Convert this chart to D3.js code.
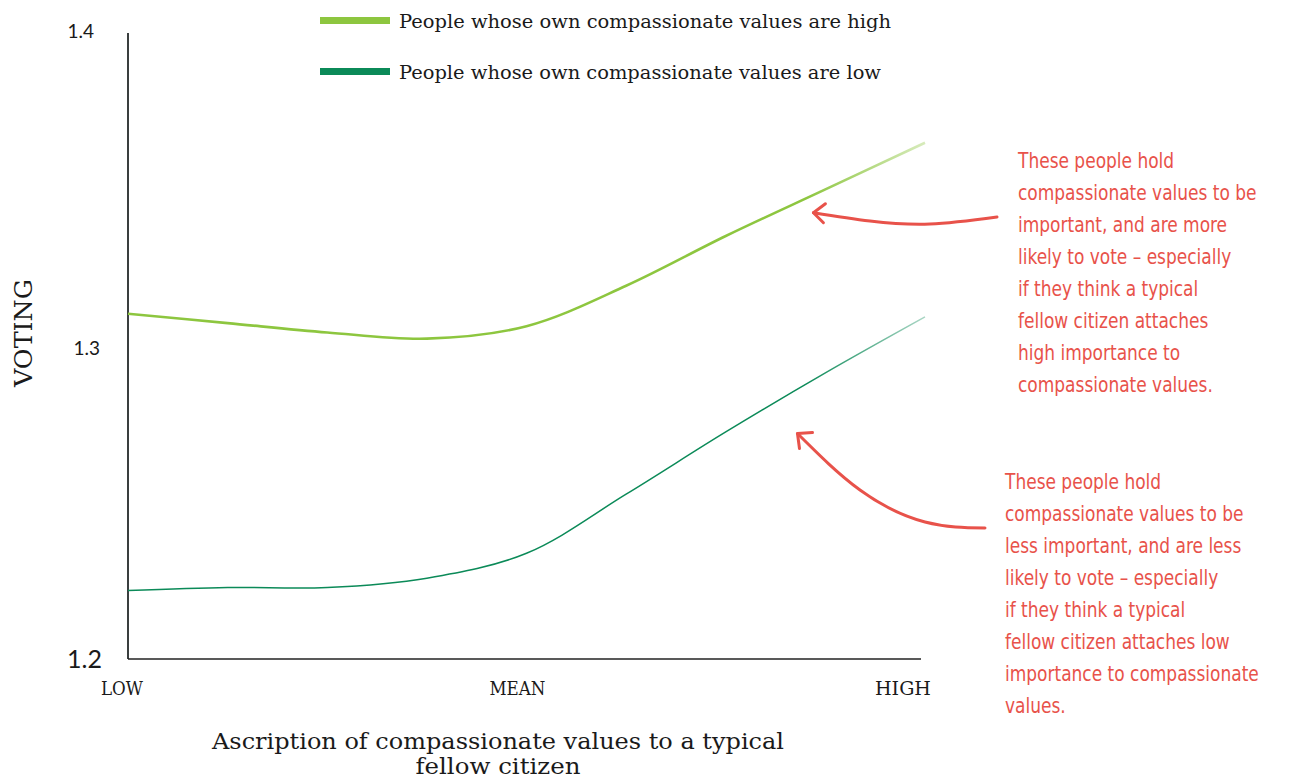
<!DOCTYPE html>
<html>
<head>
<meta charset="utf-8">
<script src="https://cdn.jsdelivr.net/npm/d3@7"></script>
<style>
  body { margin: 0; background: #fff; }
  .serif { font-family: "DejaVu Serif", serif; fill: #1a1a1a; }
  .hand { font-family: "DejaVu Sans Condensed", "DejaVu Sans", sans-serif; fill: #e8524a; }
</style>
</head>
<body>
<script>
var width = 1291,
    height = 778;

// ascription of compassionate values to a typical fellow citizen (-1 = low, 0 = mean, 1 = high)
var ascription = [-1, -0.75, -0.5, -0.25, 0, 0.25, 0.5, 0.75, 1];
// voting, own compassionate values high / low
var votingHigh = [1.311, 1.308, 1.305, 1.303, 1.307, 1.320, 1.336, 1.351, 1.366];
var votingLow  = [1.222, 1.223, 1.223, 1.226, 1.234, 1.253, 1.273, 1.292, 1.310];

var yTicks = [1.2, 1.3, 1.4];
var xTicks = [{v: -1, label: "LOW"}, {v: 0, label: "MEAN"}, {v: 1, label: "HIGH"}];
var seriesNames = ["People whose own compassionate values are high",
                   "People whose own compassionate values are low"];
var colors = ["#8dc63f", "#0b8a58"];

var noteHigh = ["These people hold", "compassionate values to be", "important, and are more",
  "likely to vote \u2013 especially", "if they think a typical", "fellow citizen attaches",
  "high importance to", "compassionate values."];
var noteLow = ["These people hold", "compassionate values to be", "less important, and are less",
  "likely to vote \u2013 especially", "if they think a typical", "fellow citizen attaches low",
  "importance to compassionate", "values."];

var svg = d3.select("body").append("svg")
    .attr("width", width)
    .attr("height", height);

var x = d3.scaleLinear().domain([-1, 1]).range([128, 925]);
var y = d3.scaleLinear().domain([1.2, 1.4]).range([659, 37]);

// fading ends of the lines
var defs = svg.append("defs");
colors.forEach(function(c, i) {
  var gr = defs.append("linearGradient")
      .attr("id", "fade" + i)
      .attr("gradientUnits", "userSpaceOnUse")
      .attr("x1", x(0.7)).attr("x2", x(1))
      .attr("y1", 0).attr("y2", 0);
  gr.append("stop").attr("offset", 0).attr("stop-color", c).attr("stop-opacity", 1);
  gr.append("stop").attr("offset", 1).attr("stop-color", c).attr("stop-opacity", 0.35);
});

// axes
svg.append("line")
    .attr("x1", x(-1)).attr("x2", x(-1))
    .attr("y1", y(1.4) - 4).attr("y2", y(1.2))
    .style("stroke", "#3a3f3f").style("stroke-width", 2);
svg.append("line")
    .attr("x1", x(-1)).attr("x2", x(1) - 4)
    .attr("y1", y(1.2)).attr("y2", y(1.2))
    .style("stroke", "#222").style("stroke-width", 1.3);

svg.selectAll(".ytick")
  .data(yTicks)
  .enter().append("text")
    .attr("class", "ytick")
    .attr("x", function(d) { return d == 1.2 ? 102 : (d == 1.4 ? 94 : 100); })
    .attr("y", function(d) { return y(d) + (d == 1.2 ? 9 : (d == 1.4 ? 1 : 7)); })
    .attr("text-anchor", "end")
    .style("font-family", "Lato, sans-serif")
    .style("font-size", function(d) { return d == 1.2 ? "25px" : "19px"; })
    .style("fill", "#1a1a1a")
    .text(function(d) { return d.toFixed(1); });

svg.selectAll(".xtick")
  .data(xTicks)
  .enter().append("text")
    .attr("class", "xtick serif")
    .attr("x", function(d) { return x(d.v) + (d.v < 0 ? -6 : (d.v > 0 ? -22 : -9)); })
    .attr("y", 695)
    .attr("text-anchor", "middle")
    .style("font-size", "18px")
    .attr("textLength", function(d) { return d.label.length * 14; })
    .attr("lengthAdjust", "spacingAndGlyphs")
    .text(function(d) { return d.label; });

svg.append("text")
    .attr("class", "serif")
    .attr("transform", "translate(32," + (y(1.3) - 15) + ") rotate(-90)")
    .attr("text-anchor", "middle")
    .style("font-size", "25px")
    .attr("textLength", 108).attr("lengthAdjust", "spacingAndGlyphs")
    .text("VOTING");

svg.append("text")
    .attr("class", "serif")
    .attr("x", 498).attr("y", 749)
    .attr("text-anchor", "middle")
    .style("font-size", "22px")
    .attr("textLength", 572).attr("lengthAdjust", "spacingAndGlyphs")
    .text("Ascription of compassionate values to a typical");
svg.append("text")
    .attr("class", "serif")
    .attr("x", 498).attr("y", 774)
    .attr("text-anchor", "middle")
    .style("font-size", "22px")
    .attr("textLength", 165).attr("lengthAdjust", "spacingAndGlyphs")
    .text("fellow citizen");

// lines
var line = d3.line()
    .x(function(d) { return x(d[0]); })
    .y(function(d) { return y(d[1]); })
    .curve(d3.curveCatmullRom.alpha(0.5));

[votingHigh, votingLow].forEach(function(vals, i) {
  svg.append("path")
      .datum(ascription.map(function(a, j) { return [a, vals[j]]; }))
      .attr("d", line)
      .style("fill", "none")
      .style("stroke", "url(#fade" + i + ")")
      .style("stroke-width", i == 0 ? 2.6 : 1.5);
});

// legend
var legend = svg.selectAll(".legend")
  .data(seriesNames)
  .enter().append("g")
    .attr("class", "legend")
    .attr("transform", function(d, i) { return "translate(320," + (20 + i * 51) + ")"; });
legend.append("rect")
    .attr("x", 0).attr("y", -3)
    .attr("width", 70).attr("height", 7)
    .style("fill", function(d, i) { return colors[i]; });
legend.append("text")
    .attr("class", "serif")
    .attr("x", 79).attr("y", 8)
    .style("font-size", "19px")
    .attr("textLength", function(d, i) { return i == 0 ? 492 : 482; })
    .attr("lengthAdjust", "spacingAndGlyphs")
    .text(function(d) { return d; });

// annotations
function note(lines, x0, y0) {
  var t = svg.append("text").attr("class", "hand")
      .attr("transform", "translate(" + x0 + "," + y0 + ") scale(0.86,1)")
      .style("font-size", "22px");
  t.selectAll("tspan")
    .data(lines)
    .enter().append("tspan")
      .attr("x", 0)
      .attr("y", function(d, i) { return i * 32; })
      .text(function(d) { return d; });
}
note(noteHigh, 1018, 168);
note(noteLow, 1005, 489);

var arrow = d3.line().curve(d3.curveNatural);
function drawArrow(pts, head) {
  svg.append("path")
      .attr("d", arrow(pts))
      .style("fill", "none")
      .style("stroke", "#e8524a")
      .style("stroke-width", 3)
      .style("stroke-linecap", "round");
  svg.append("path")
      .attr("d", d3.line()(head))
      .style("fill", "none")
      .style("stroke", "#e8524a")
      .style("stroke-width", 3)
      .style("stroke-linecap", "round")
      .style("stroke-linejoin", "round");
}
// arrows tied to chart coordinates
var t1 = [x(0.72), y(1.3435)];
drawArrow([[997, 217], [930, 224], [870, 221], t1],
          [[t1[0] + 12, t1[1] - 9], t1, [t1[0] + 10, t1[1] + 10]]);
var t2 = [x(0.68), y(1.2725)];
drawArrow([[985, 528], [925, 522], [860, 490], t2],
          [[t2[0] + 15, t2[1] - 1], t2, [t2[0] + 2, t2[1] + 15]]);
</script>
</body>
</html>
